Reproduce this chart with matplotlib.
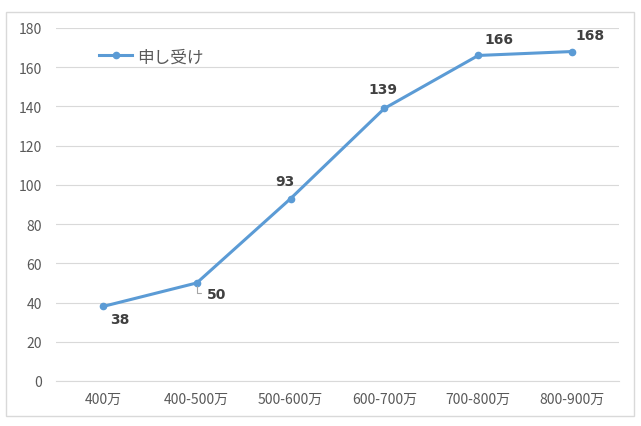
import matplotlib
matplotlib.use("Agg")
import matplotlib.pyplot as plt
from matplotlib.patches import Rectangle

plt.rcParams['font.family'] = ['Noto Sans CJK JP', 'DejaVu Sans']

categories = ["400万", "400-500万", "500-600万", "600-700万", "700-800万", "800-900万"]
values = [38, 50, 93, 139, 166, 168]
series_name = "申し受け"
yticks = [0, 20, 40, 60, 80, 100, 120, 140, 160, 180]

# label offsets in points (dx, dy)
offsets = [(12, -9), (14, -8), (-4, 13), (-1, 14), (15, 12), (13, 12)]

fig = plt.figure(figsize=(6.41, 4.27), dpi=100)
fig.patches.append(Rectangle((6/641, 1-417/427), 628/641, 404/427, transform=fig.transFigure,
                             fill=False, edgecolor='#d9d9d9', linewidth=1))
ax = fig.add_axes([56/641, 1-382/427, 563/641, 353/427])

x = list(range(len(categories)))
ax.plot(x, values, color='#5b9bd5', linewidth=2.2, marker='o', markersize=4.5,
        label=series_name, zorder=3)

for i, v in enumerate(values):
    dx, dy = offsets[i]
    ax.annotate(str(v), (i, v), xytext=(dx, dy), textcoords='offset points',
                ha='center', va='center', fontsize=10, fontweight='bold', color='#404040',
                family=['DejaVu Sans'])
# leader line for 50
ax.annotate("", (1, 50), xytext=(5, -7), textcoords='offset points',
            arrowprops=dict(arrowstyle='-', color='#a6a6a6', linewidth=0.8,
                            connectionstyle='angle,angleA=0,angleB=90,rad=0'))

ax.set_xlim(-0.5, len(categories) - 0.5)
ax.set_ylim(0, 180)
ax.set_yticks(yticks)
ax.set_xticks(x)
ax.set_xticklabels(categories)
ax.grid(axis='y', color='#d9d9d9', linewidth=0.8)
ax.set_axisbelow(True)
for s in ['top', 'right', 'left']:
    ax.spines[s].set_visible(False)
ax.spines['bottom'].set_color('#d9d9d9')
ax.tick_params(axis='both', length=0, labelsize=10, colors='#595959')
ax.tick_params(axis='y', pad=10)
ax.tick_params(axis='x', pad=8)

leg = ax.legend(loc='upper left', bbox_to_anchor=(0.05, 0.985), frameon=False,
                fontsize=12, handlelength=2.0, handletextpad=0.25)
for t in leg.get_texts():
    t.set_color('#595959')

fig.savefig("out.png", dpi=100)
